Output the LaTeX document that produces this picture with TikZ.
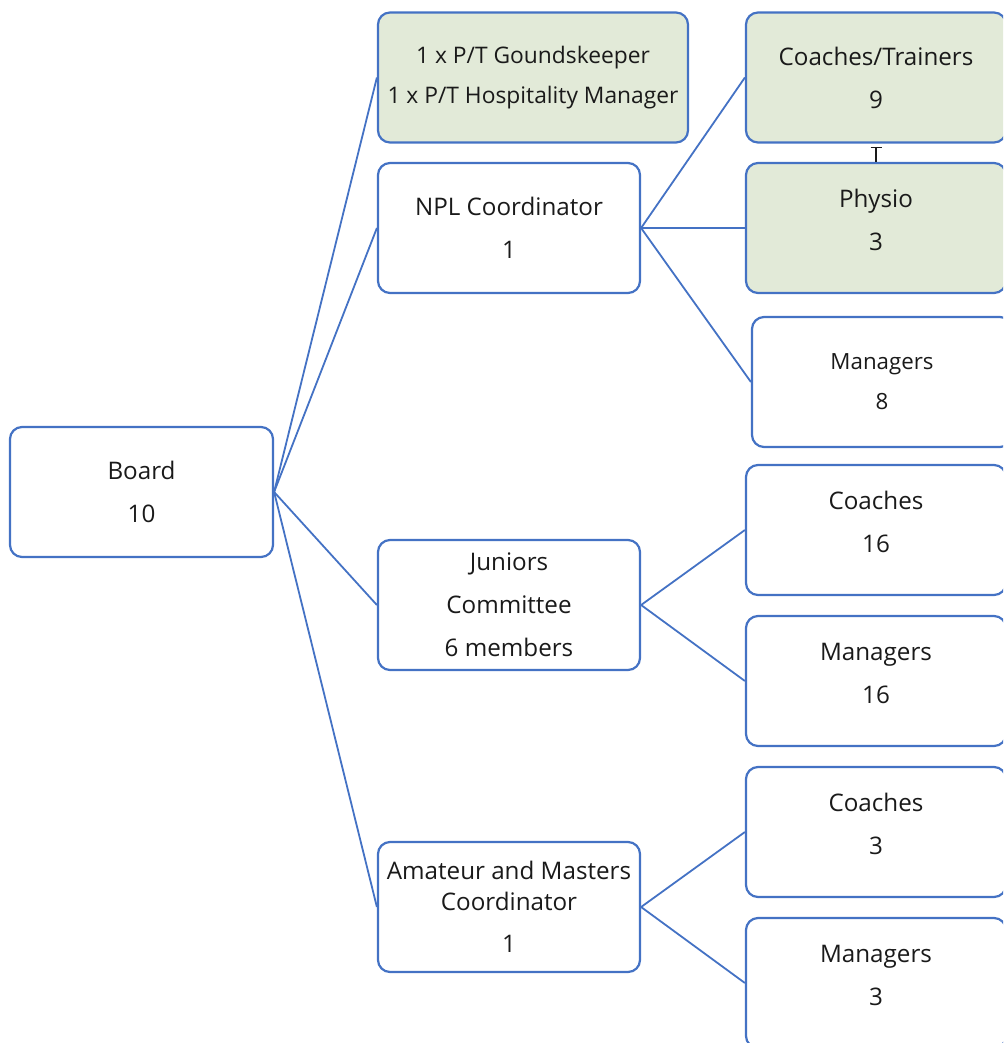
\documentclass[tikz,border=0pt]{standalone}
\usepackage{fontspec}
\setmainfont{Open Sans}
\usetikzlibrary{arrows.meta}
\definecolor{linkblue}{HTML}{4472C4}
\definecolor{softgreen}{HTML}{E2EAD8}
\definecolor{inkgray}{HTML}{1A1A1A}
\begin{document}
\begin{tikzpicture}[x=1pt,y=-1pt,
  card/.style={draw=linkblue, line width=2.2pt, rounded corners=12pt, fill=white,
    minimum width=262pt, minimum height=130pt, align=center, inner sep=0pt,
    font=\fontsize{24.2}{43}\selectfont, text=inkgray},
  shaded/.style={fill=softgreen},
  raised/.style={text depth=16pt},
  link/.style={draw=linkblue, line width=1.8pt}]
\useasboundingbox (0,0) rectangle (1003,1043);
\clip (0,0) rectangle (1003,1043);

% first and second level
\node[card, minimum width=263pt] (board) at (141.5,492) {Board\\10};
\node[card, shaded, minimum width=310pt, font=\fontsize{22.8}{40}\selectfont] (staff) at (533,77.5)
  {1 x P/T Goundskeeper\\1 x P/T Hospitality Manager};
\node[card] (npl) at (509,228) {NPL Coordinator\\1};
\node[card] (juniors) at (509,605) {Juniors\\Committee\\6 members};
\node[card, font=\fontsize{24.2}{31}\selectfont] (amateur) at (509,907)
  {Amateur and Masters\\Coordinator\\[11pt]1};

% third level
\node[card, shaded, minimum width=260pt] (trainers) at (876,77.5) {Coaches/Trainers\\9};
\node[card, shaded, raised, minimum width=260pt] (physio) at (876,228) {Physio\\3};
\node[card, minimum width=260pt, font=\fontsize{22.3}{40}\selectfont] (nplmgr) at (882,382) {Managers\\8};
\node[card, raised, minimum width=260pt] (jrcoach) at (876,530) {Coaches\\16};
\node[card, raised, minimum width=260pt] (jrmgr) at (876,681) {Managers\\16};
\node[card, raised, minimum width=260pt] (amcoach) at (876,832) {Coaches\\3};
\node[card, raised, minimum width=260pt] (ammgr) at (876,983) {Managers\\3};

% connectors
\foreach \t in {staff,npl,juniors,amateur}
  \draw[link] (board.east) -- (\t.west);
\foreach \t in {trainers,physio,nplmgr}
  \draw[link] (npl.east) -- (\t.west);
\foreach \t in {jrcoach,jrmgr}
  \draw[link] (juniors.east) -- (\t.west);
\foreach \t in {amcoach,ammgr}
  \draw[link] (amateur.east) -- (\t.west);

\draw[-{Bar[width=11pt]}, line width=1.3pt, inkgray] (physio.north) -- ([yshift=-3pt]trainers.south);
\end{tikzpicture}
\end{document}
